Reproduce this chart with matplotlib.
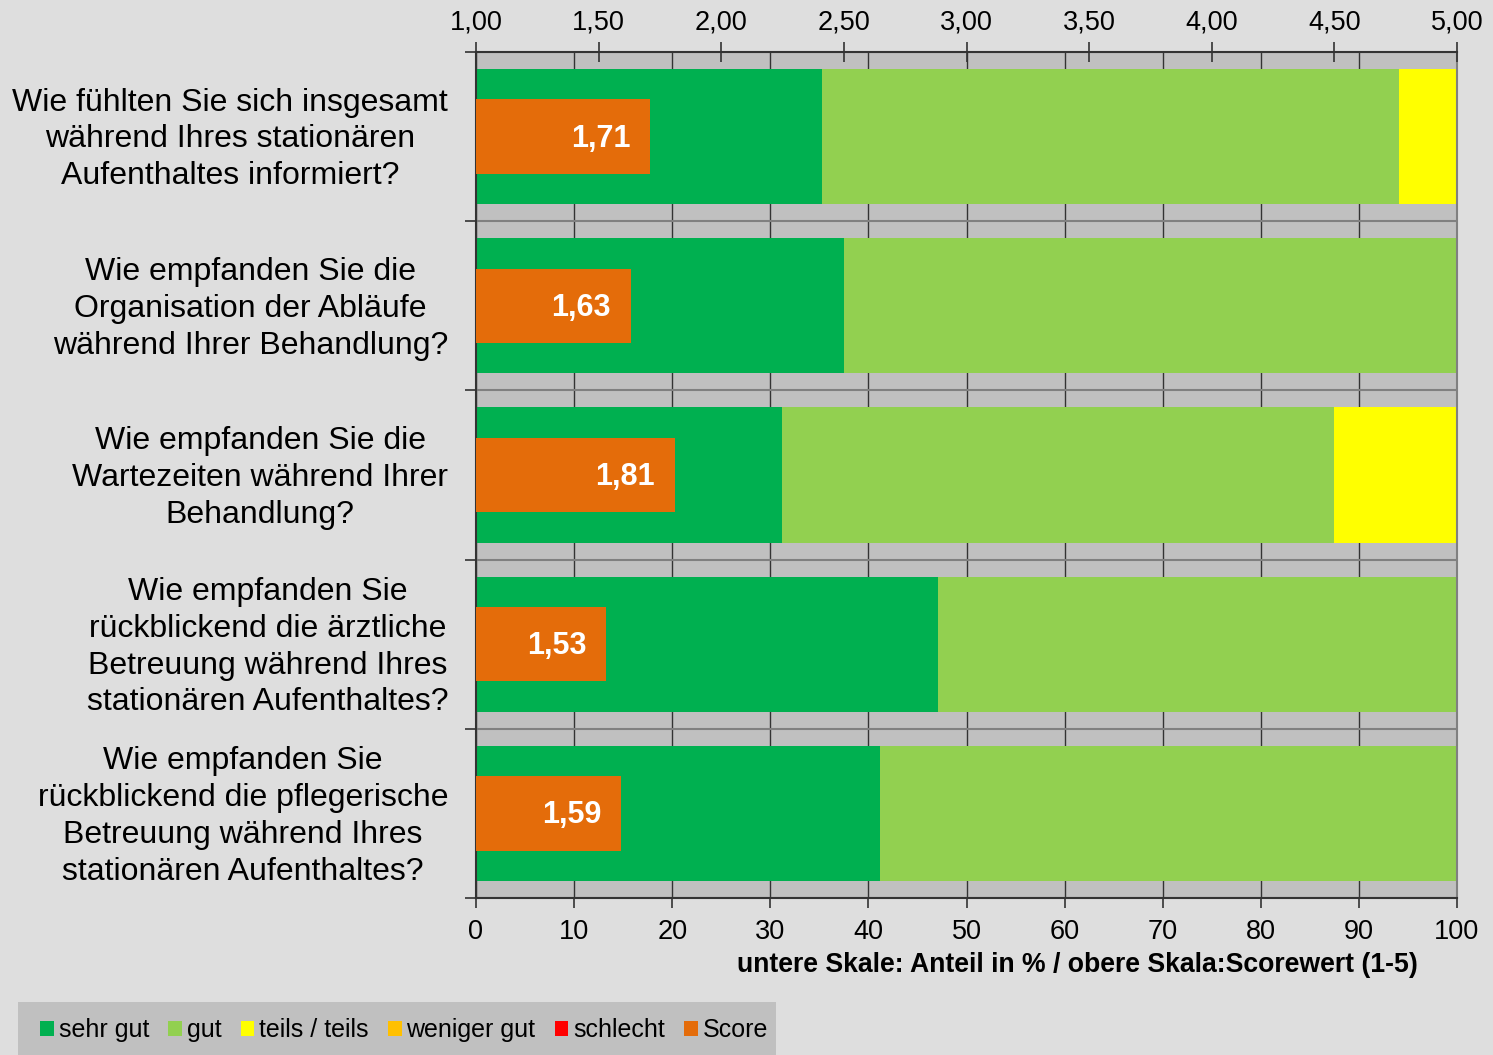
import numpy as np
import matplotlib
matplotlib.use('Agg')
import matplotlib.pyplot as plt
from matplotlib.patches import Patch, Rectangle

plt.rcParams['font.family'] = ['Liberation Sans', 'DejaVu Sans']

# data
questions = [
    'Wie fühlten Sie sich insgesamt\nwährend Ihres stationären\nAufenthaltes informiert?',
    'Wie empfanden Sie die\nOrganisation der Abläufe\nwährend Ihrer Behandlung?',
    'Wie empfanden Sie die\nWartezeiten während Ihrer\nBehandlung?',
    'Wie empfanden Sie\nrückblickend die ärztliche\nBetreuung während Ihres\nstationären Aufenthaltes?',
    'Wie empfanden Sie\nrückblickend die pflegerische\nBetreuung während Ihres\nstationären Aufenthaltes?',
]
sehr_gut = [35.3, 37.5, 31.2, 47.1, 41.2]
gut = [58.8, 62.5, 56.3, 52.9, 58.8]
teils = [5.9, 0.0, 12.5, 0.0, 0.0]
weniger_gut = [0.0, 0.0, 0.0, 0.0, 0.0]
schlecht = [0.0, 0.0, 0.0, 0.0, 0.0]
scores = [1.71, 1.63, 1.81, 1.53, 1.59]

series = [('sehr gut', sehr_gut, '#00B050'),
          ('gut', gut, '#92D050'),
          ('teils / teils', teils, '#FFFF00'),
          ('weniger gut', weniger_gut, '#FFC000'),
          ('schlecht', schlecht, '#FF0000')]
score_color = '#E46C0A'

pct_ticks = list(range(0, 101, 10))
score_ticks = [1.0, 1.5, 2.0, 2.5, 3.0, 3.5, 4.0, 4.5, 5.0]

fig = plt.figure(figsize=(14.93, 10.55), dpi=100)
fig.patch.set_facecolor('#DEDEDE')
ax = fig.add_axes([476 / 1493, 1 - 898 / 1055, (1457 - 476) / 1493, (898 - 52) / 1055])
ax.set_facecolor('#C0C0C0')

y = np.arange(len(questions)) + 0.5
left = np.zeros(len(questions))
for name, vals, col in series:
    vals = np.array(vals)
    ax.barh(y, vals, left=left, height=0.8, color=col, linewidth=0)
    left += vals

ax.set_xlim(0, 100)
ax.set_ylim(len(questions), 0)
ax.set_xticks(pct_ticks)
ax.set_xticklabels([str(t) for t in pct_ticks], fontsize=19.5)
ax.tick_params(axis='x', direction='out', length=7, width=1.2, pad=8, color='#333333')

ax.set_yticks(np.arange(len(questions) + 1))
ax.set_yticklabels([])
# question labels sit a little above the bar centres
ax.set_yticks(y - 0.024, minor=True)
ax.set_yticklabels(questions, minor=True, fontsize=23, multialignment='center',
                   linespacing=1.3)
ax.tick_params(axis='y', which='major', direction='out', length=8, width=1.2, color='#333333')
ax.tick_params(axis='y', which='minor', length=0, pad=20)

ax.set_axisbelow(True)
ax.grid(axis='x', color='#333333', linewidth=1.0)
ax.grid(axis='y', which='major', color='#808080', linewidth=1.5)

for s in ['left', 'bottom']:
    ax.spines[s].set_color('#333333')
    ax.spines[s].set_linewidth(1.5)
ax.spines['right'].set_color('#808080')
ax.spines['right'].set_linewidth(1.5)
ax.spines['top'].set_visible(False)

# score axis on top
ax2 = ax.twiny()
ax2.set_xlim(1, 5)
ax2.barh(y, np.array(scores) - 1, left=1, height=0.44, color=score_color, linewidth=0)
for yi, sc in zip(y, scores):
    ax2.text(sc - 0.08, yi + 0.012, f'{sc:.2f}'.replace('.', ','), ha='right', va='center',
             color='white', fontsize=22, fontweight='bold')
ax2.set_xticks(score_ticks)
ax2.set_xticklabels([f'{t:.2f}'.replace('.', ',') for t in score_ticks], fontsize=19.5)
ax2.tick_params(axis='x', direction='inout', length=15, width=1.2, pad=4.5, color='#333333')
ax2.spines['top'].set_color('#333333')
ax2.spines['top'].set_linewidth(1.5)
for s in ['left', 'bottom', 'right']:
    ax2.spines[s].set_visible(False)

fig.text(1418 / 1493, 1 - 965 / 1055, 'untere Skale: Anteil in % / obere Skala:Scorewert (1-5)',
         ha='right', va='center', fontsize=19.2, fontweight='bold')

# legend
fig.patches.append(Rectangle((18 / 1493, 0), (776 - 18) / 1493, 53 / 1055,
                             transform=fig.transFigure, facecolor='#C0C0C0',
                             edgecolor='none', zorder=0))
handles = [Patch(facecolor=col, label=name) for name, _, col in series]
handles.append(Patch(facecolor=score_color, label='Score'))
fig.legend(handles=handles, loc='center left', bbox_to_anchor=(40 / 1493, 25 / 1055),
           ncol=6, frameon=False, fontsize=18, handlelength=0.55, handleheight=0.55,
           handletextpad=0.2, columnspacing=0.76, borderaxespad=0, borderpad=0)

fig.savefig('out.png', dpi=100, facecolor=fig.get_facecolor())
